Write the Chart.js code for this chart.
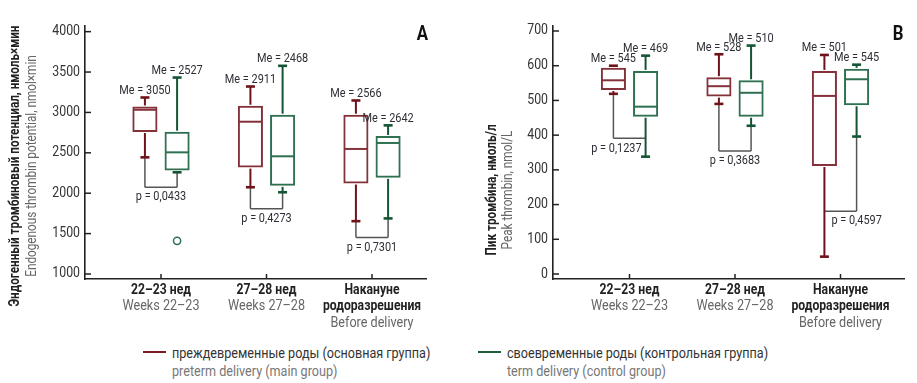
<!DOCTYPE html>
<html><head><meta charset="utf-8">
<script src="https://cdn.jsdelivr.net/npm/chart.js@4/dist/chart.umd.min.js"></script>
<style>
html,body{margin:0;padding:0;background:#fff;width:917px;height:383px;overflow:hidden;position:relative}
#ca{position:absolute;left:0;top:0}
#cb{position:absolute;left:460px;top:0}
.sw{position:absolute;top:351px;height:2px;width:23px}
.lt{position:absolute;top:344px;white-space:nowrap;transform-origin:0 0;line-height:18px}
.lt .ru{color:#333}
.lt .en{color:#777}
</style></head><body>
<canvas id="ca" width="460" height="340"></canvas>
<canvas id="cb" width="457" height="340"></canvas>
<div id="legend"></div>
<script>
// ---------- DATA ----------
const categoriesRu = [['22–23 нед'], ['27–28 нед'], ['Накануне', 'родоразрешения']];
const categoriesEn = ['Weeks 22–23', 'Weeks 27–28', 'Before delivery'];
const seriesRu = ['преждевременные роды (основная группа)', 'своевременные роды (контрольная группа)'];
const seriesEn = ['preterm delivery (main group)', 'term delivery (control group)'];

// Panel A: endogenous thrombin potential, nmol×min
const etpTicks = [1000, 1500, 2000, 2500, 3000, 3500, 4000];
const etpPretermMin    = [2444, 2074, 1654];
const etpPretermQ1     = [2758, 2317, 2120];
const etpPretermMedian = [3033, 2885, 2548];
const etpPretermQ3     = [3074, 3083, 2972];
const etpPretermMax    = [3185, 3321, 3148];
const etpPretermMe     = [3050, 2911, 2566];
const etpTermMin       = [2259, 2012, 1688];
const etpTermQ1        = [2280, 2091, 2190];
const etpTermMedian    = [2506, 2457, 2622];
const etpTermQ3        = [2762, 2972, 2709];
const etpTermMax       = [3432, 3577, 2840];
const etpTermMe        = [2527, 2468, 2642];
const etpTermOutliers  = [[1410], [], []];
const etpPValues       = ['0,0433', '0,4273', '0,7301'];
const etpBracketLevel  = [2075, 1807, 1453];

// Panel B: peak thrombin, nmol/L
const peakTicks = [0, 100, 200, 300, 400, 500, 600, 700];
const peakPretermMin    = [519, 490, 50];
const peakPretermQ1     = [530, 511, 311];
const peakPretermMedian = [558, 541, 513];
const peakPretermQ3     = [594, 567, 585];
const peakPretermMax    = [600, 633, 631];
const peakPretermMe     = [545, 528, 501];
const peakTermMin       = [338, 427, 396];
const peakTermQ1        = [453, 453, 486];
const peakTermMedian    = [482, 522, 561];
const peakTermQ3        = [585, 558, 591];
const peakTermMax       = [629, 658, 603];
const peakTermMe        = [469, 510, 545];
const peakTermOutliers  = [[], [], []];
const peakPValues       = ['0,1237', '0,3683', '0,4597'];
const peakBracketLevel  = [391, 354, 181];

// ---------- STYLE ----------
const RED_BOX = '#85313a', RED_WH = '#6f1219';
const GREEN_BOX = '#2f7050', GREEN_WH = '#145434';
const LEG_COLORS = ['#7a1c22', '#1d5c3c'];

function hasFont(name) {
  const c = document.createElement('canvas').getContext('2d');
  const t = 'mmmmmlliWW 0123 абвгд';
  c.font = '40px monospace'; const a = c.measureText(t).width;
  c.font = '40px "' + name + '", monospace'; const b = c.measureText(t).width;
  return Math.abs(a - b) > 0.5;
}
const NARROW = hasFont('Liberation Sans Narrow');
const FAM = NARROW ? '"Liberation Sans Narrow", sans-serif' : 'Roboto, sans-serif';
const SX = NARROW ? 1 : 0.84;
const SX_TICK = NARROW ? 1 : 0.88;

function txt(ctx, s, x, y, font, color, align, rot, sx) {
  ctx.save();
  ctx.translate(x, y);
  if (rot) ctx.rotate(rot);
  ctx.scale(sx || SX, 1);
  ctx.font = font; ctx.fillStyle = color;
  ctx.textAlign = align || 'center'; ctx.textBaseline = 'middle';
  ctx.fillText(s, 0, 0);
  ctx.restore();
}
function line(ctx, x1, y1, x2, y2) { ctx.beginPath(); ctx.moveTo(x1, y1); ctx.lineTo(x2, y2); ctx.stroke(); }

function makeDecor(P) {
  return {
    id: 'decor' + P.letter,
    beforeDatasetsDraw(chart) {
      const ctx = chart.ctx, y = chart.scales.y;
      const mR = chart.getDatasetMeta(0), mG = chart.getDatasetMeta(1);
      ctx.save();
      ctx.strokeStyle = '#555'; ctx.lineWidth = 1.5;
      P.bracket.forEach((lv, i) => {
        const ly = y.getPixelForValue(lv);
        const xr = mR.data[i].x, xg = mG.data[i].x;
        line(ctx, xr, ly, xg, ly);
        if (P.series[0].min[i] > lv) line(ctx, xr, y.getPixelForValue(P.series[0].min[i]), xr, ly);
        if (P.series[1].min[i] > lv) line(ctx, xg, y.getPixelForValue(P.series[1].min[i]), xg, ly);
      });
      ctx.restore();
    },
    afterDatasetsDraw(chart) {
      const ctx = chart.ctx, y = chart.scales.y;
      ctx.save();
      P.series.forEach((s, d) => {
        const meta = chart.getDatasetMeta(d);
        meta.data.forEach((bar, i) => {
          const x = bar.x, hw = bar.width / 2;
          const pMax = y.getPixelForValue(s.max[i]), pQ3 = y.getPixelForValue(s.q3[i]);
          const pMed = y.getPixelForValue(s.med[i]), pQ1 = y.getPixelForValue(s.q1[i]);
          const pMin = y.getPixelForValue(s.min[i]);
          ctx.strokeStyle = s.wh; ctx.lineWidth = 2;
          line(ctx, x, pQ3 - 1, x, pMax); line(ctx, x, pQ1 + 1, x, pMin);
          ctx.lineWidth = 2.6;
          line(ctx, x - 4.5, pMax, x + 4.5, pMax); line(ctx, x - 4.5, pMin, x + 4.5, pMin);
          ctx.strokeStyle = s.box; ctx.lineWidth = 2;
          line(ctx, x - hw + 1, pMed, x + hw - 1, pMed);
          (s.out[i] || []).forEach(v => {
            ctx.strokeStyle = s.box; ctx.lineWidth = 1.5;
            ctx.beginPath(); ctx.arc(x, y.getPixelForValue(v), 3.6, 0, Math.PI * 2); ctx.stroke();
          });
          txt(ctx, 'Me = ' + s.me[i], x, pMax - 7, '13px ' + FAM, '#2e2e36');
        });
      });
      const mR = chart.getDatasetMeta(0), mG = chart.getDatasetMeta(1);
      P.pValues.forEach((p, i) => {
        const lv = P.bracket[i], ly = y.getPixelForValue(lv) + 10;
        const xr = mR.data[i].x, xg = mG.data[i].x;
        const s = 'p = ' + p, f = '13px ' + FAM;
        if (P.series[1].min[i] < lv) txt(ctx, s, xg - 4, ly, f, '#2e2e36', 'right');
        else if (P.series[0].min[i] < lv) txt(ctx, s, xr + 7, ly, f, '#2e2e36', 'left');
        else txt(ctx, s, (xr + xg) / 2, ly, f, '#2e2e36', 'center');
      });
      ctx.restore();
    },
    afterDraw(chart) {
      const ctx = chart.ctx, y = chart.scales.y, x = chart.scales.x, a = chart.chartArea;
      ctx.save();
      ctx.strokeStyle = '#222'; ctx.lineWidth = 1.5;
      P.ticks.forEach(v => {
        const py = y.getPixelForValue(v);
        line(ctx, a.left, py, a.left + 6, py);
        txt(ctx, String(v), a.left - 5, py, '14px ' + FAM, '#333', 'right', 0, SX_TICK);
      });
      categoriesEn.forEach((c, i) => {
        const px = x.getPixelForValue(i + 1);
        line(ctx, px, a.bottom, px, a.bottom - 5);
        let ly = 290;
        categoriesRu[i].forEach(r => { txt(ctx, r, px, ly, 'bold 14.5px ' + FAM, '#222'); ly += 16.5; });
        txt(ctx, c, px, ly, '15px ' + FAM, '#666');
      });
      txt(ctx, P.titleRu, P.titleX[0], P.titleY, 'bold 14px ' + FAM, '#222', 'center', -Math.PI / 2);
      txt(ctx, P.titleEn, P.titleX[1], P.titleY, '14px ' + FAM, '#666', 'center', -Math.PI / 2);
      txt(ctx, P.letter, P.letterX, 35, 'bold 20px ' + FAM, '#111');
      ctx.restore();
    }
  };
}

function makePanel(P) {
  const colors = [[RED_BOX, RED_WH], [GREEN_BOX, GREEN_WH]];
  P.series.forEach((s, d) => { s.box = colors[d][0]; s.wh = colors[d][1]; });
  return new Chart(document.getElementById(P.canvas), {
    type: 'bar',
    data: {
      datasets: P.series.map((s, d) => ({
        label: seriesEn[d],
        data: categoriesEn.map((_, i) => ({ x: i + 1, y: [s.q1[i], s.q3[i]] })),
        backgroundColor: 'rgba(255,255,255,0)',
        borderColor: s.box, borderWidth: 2, borderSkipped: false,
        categoryPercentage: 0.61, barPercentage: 0.78
      }))
    },
    options: {
      responsive: false, maintainAspectRatio: false, animation: false, events: [],
      layout: { padding: { left: 0, right: P.rightPad, top: 26, bottom: 0 } },
      plugins: { legend: { display: false }, tooltip: { enabled: false } },
      scales: {
        x: {
          type: 'linear', offset: false, min: P.xMin, max: P.xMax,
          grid: { display: false, drawTicks: false },
          border: { display: true, color: '#222', width: 1.6 },
          ticks: { display: false },
          afterBuildTicks: s => { s.ticks = categoriesEn.map((_, i) => ({ value: i + 1 })); },
          afterFit: s => { s.height = 61; }
        },
        y: {
          type: 'linear', min: P.min, max: P.max,
          grid: { display: false, drawTicks: false },
          border: { display: true, color: '#222', width: 1.6 },
          ticks: { display: false },
          afterBuildTicks: s => { s.ticks = P.ticks.map(v => ({ value: v })); },
          afterFit: s => { s.width = P.yWidth; }
        }
      }
    },
    plugins: [makeDecor(P)]
  });
}

makePanel({
  canvas: 'ca', letter: 'A', letterX: 422.5,
  titleRu: 'Эндогенный тромбиновый потенциал, нмоль×мин',
  titleEn: 'Endogenous thrombin potential, nmol×min',
  titleX: [15.5, 32], titleY: 166,
  ticks: etpTicks, min: 938, max: 4070, xMin: 0.2796, xMax: 3.5118,
  yWidth: 85, rightPad: 34,
  series: [
    { min: etpPretermMin, q1: etpPretermQ1, med: etpPretermMedian, q3: etpPretermQ3, max: etpPretermMax, me: etpPretermMe, out: [] },
    { min: etpTermMin, q1: etpTermQ1, med: etpTermMedian, q3: etpTermQ3, max: etpTermMax, me: etpTermMe, out: etpTermOutliers }
  ],
  pValues: etpPValues, bracket: etpBracketLevel
});

makePanel({
  canvas: 'cb', letter: 'B', letterX: 438,
  titleRu: 'Пик тромбина, нмоль/л',
  titleEn: 'Peak thrombin, nmol/L',
  titleX: [32, 48.7], titleY: 190,
  ticks: peakTicks, min: -14.4, max: 714.4, xMin: 0.2749, xMax: 3.6019,
  yWidth: 93, rightPad: 13,
  series: [
    { min: peakPretermMin, q1: peakPretermQ1, med: peakPretermMedian, q3: peakPretermQ3, max: peakPretermMax, me: peakPretermMe, out: [] },
    { min: peakTermMin, q1: peakTermQ1, med: peakTermMedian, q3: peakTermQ3, max: peakTermMax, me: peakTermMe, out: peakTermOutliers }
  ],
  pValues: peakPValues, bracket: peakBracketLevel
});

// legend
const legSwatchX = [143, 478];
const legTextX = [172, 507];
const legEl = document.getElementById('legend');
seriesRu.forEach((r, d) => {
  const sw = document.createElement('div');
  sw.className = 'sw';
  sw.style.left = legSwatchX[d] + 'px';
  sw.style.background = LEG_COLORS[d];
  legEl.appendChild(sw);
  const t = document.createElement('div');
  t.className = 'lt';
  t.style.left = legTextX[d] + 'px';
  t.style.fontFamily = FAM;
  t.style.fontSize = '15px';
  t.style.transform = 'scaleX(' + SX + ')';
  const ru = document.createElement('div'); ru.className = 'ru'; ru.textContent = r;
  const en = document.createElement('div'); en.className = 'en'; en.textContent = seriesEn[d];
  t.appendChild(ru); t.appendChild(en);
  legEl.appendChild(t);
});
</script>
</body></html>
